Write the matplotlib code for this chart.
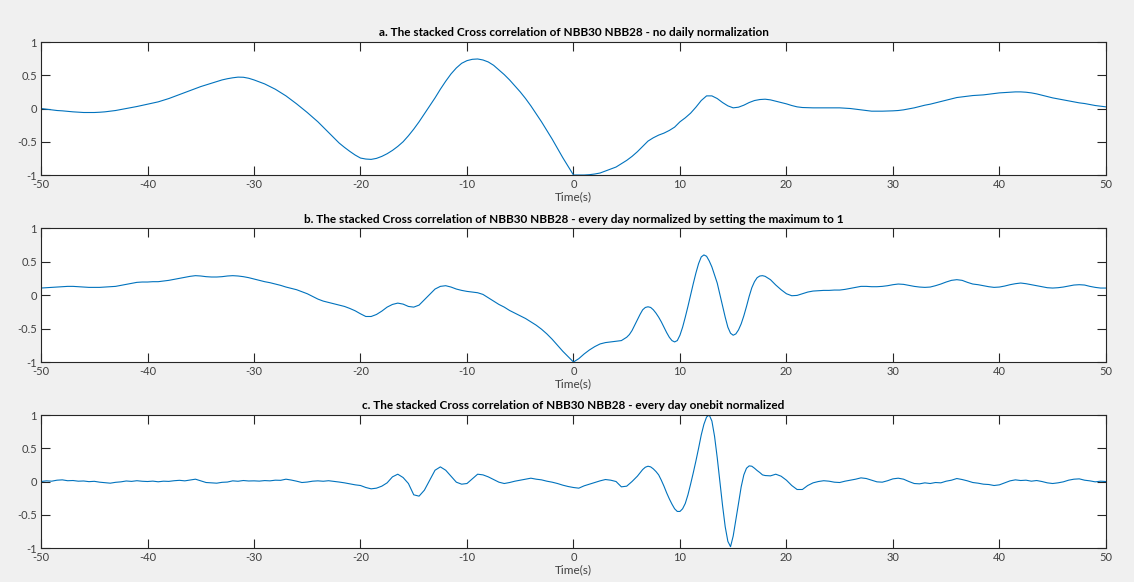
"""
Stacked cross-correlation of NBB30 / NBB28 with three normalization schemes.
"""

import numpy as np
import matplotlib
matplotlib.use("Agg")
import matplotlib.pyplot as plt

# lag axes: 0.5 s sampling, 0.25 s around the main arrivals
lag_a = np.arange(-50, 50.01, 0.5)
lag_b = np.concatenate([np.arange(-50, 5, 0.5), np.arange(5, 18, 0.25),
                        np.arange(18, 50.01, 0.5)])
lag_c = np.concatenate([np.arange(-50, 6, 0.5), np.arange(6, 18, 0.25),
                        np.arange(18, 50.01, 0.5)])

# a. no daily normalization
cc_raw = [
    0.00, -0.01, -0.02, -0.03, -0.035, -0.043, -0.05, -0.055, -0.06, -0.06,
    -0.06, -0.056, -0.05, -0.04, -0.03, -0.015, 0.00, 0.015, 0.03, 0.048,
    0.065, 0.082, 0.10, 0.125, 0.15, 0.18, 0.21, 0.24, 0.27, 0.30,
    0.33, 0.355, 0.38, 0.405, 0.43, 0.448, 0.462, 0.472, 0.47, 0.455,
    0.43, 0.40, 0.37, 0.33, 0.29, 0.24, 0.19, 0.13, 0.07, 0.005,
    -0.06, -0.13, -0.20, -0.28, -0.36, -0.44, -0.52, -0.585, -0.645, -0.70,
    -0.745, -0.76, -0.765, -0.75, -0.72, -0.68, -0.63, -0.57, -0.50, -0.41,
    -0.31, -0.20, -0.08, 0.04, 0.16, 0.29, 0.41, 0.52, 0.61, 0.68,
    0.72, 0.74, 0.745, 0.73, 0.70, 0.65, 0.58, 0.51, 0.43, 0.34,
    0.25, 0.15, 0.04, -0.08, -0.20, -0.33, -0.46, -0.60, -0.74, -0.87,
    -1.00, -1.00, -1.00, -0.995, -0.985, -0.97, -0.94, -0.91, -0.88, -0.83,
    -0.78, -0.72, -0.65, -0.57, -0.49, -0.44, -0.40, -0.37, -0.33, -0.28,
    -0.20, -0.14, -0.07, 0.02, 0.12, 0.19, 0.19, 0.15, 0.09, 0.04,
    0.01, 0.02, 0.05, 0.09, 0.12, 0.135, 0.14, 0.13, 0.11, 0.09,
    0.07, 0.045, 0.025, 0.015, 0.012, 0.01, 0.01, 0.01, 0.01, 0.01,
    0.01, 0.005, 0.00, -0.01, -0.02, -0.03, -0.04, -0.04, -0.04, -0.038,
    -0.035, -0.03, -0.02, -0.005, 0.01, 0.03, 0.05, 0.065, 0.085, 0.105,
    0.125, 0.145, 0.165, 0.175, 0.185, 0.195, 0.20, 0.205, 0.215, 0.225,
    0.235, 0.24, 0.245, 0.25, 0.25, 0.245, 0.235, 0.22, 0.20, 0.18,
    0.16, 0.145, 0.13, 0.115, 0.10, 0.085, 0.075, 0.06, 0.045, 0.035,
    0.025,
]

# b. every day normalized by its maximum
cc_maxnorm = [
    # -50 .. 4.5 s
    0.105, 0.11, 0.115, 0.12, 0.125, 0.13, 0.13, 0.125, 0.12, 0.115,
    0.115, 0.115, 0.12, 0.125, 0.13, 0.145, 0.16, 0.175, 0.19, 0.195,
    0.195, 0.20, 0.20, 0.21, 0.22, 0.235, 0.25, 0.265, 0.28, 0.29,
    0.285, 0.275, 0.27, 0.27, 0.275, 0.285, 0.29, 0.285, 0.275, 0.26,
    0.24, 0.22, 0.20, 0.185, 0.165, 0.145, 0.12, 0.10, 0.08, 0.05,
    0.02, -0.02, -0.06, -0.09, -0.11, -0.13, -0.15, -0.17, -0.20, -0.235,
    -0.28, -0.32, -0.32, -0.29, -0.24, -0.18, -0.14, -0.12, -0.135, -0.17,
    -0.18, -0.15, -0.07, 0.01, 0.09, 0.13, 0.14, 0.12, 0.09, 0.07,
    0.055, 0.045, 0.035, 0.01, -0.04, -0.09, -0.14, -0.18, -0.23, -0.27,
    -0.31, -0.35, -0.40, -0.45, -0.51, -0.58, -0.66, -0.75, -0.84, -0.92,
    -1.00, -0.95, -0.88, -0.82, -0.77, -0.73, -0.71, -0.70, -0.69, -0.68,
    # 5 .. 17.75 s
    -0.63, -0.59, -0.53, -0.45, -0.37, -0.29, -0.22, -0.185, -0.175, -0.185,
    -0.22, -0.27, -0.33, -0.40, -0.48, -0.56, -0.63, -0.68, -0.70, -0.68,
    -0.60, -0.48, -0.33, -0.17, 0.00, 0.17, 0.33, 0.47, 0.57, 0.60,
    0.58, 0.51, 0.42, 0.30, 0.18, 0.01, -0.16, -0.33, -0.48, -0.57,
    -0.60, -0.58, -0.52, -0.43, -0.31, -0.17, -0.02, 0.11, 0.20, 0.26,
    0.285, 0.29,
    # 18 .. 50 s
    0.28, 0.23, 0.15, 0.08,
    0.02, -0.01, -0.005, 0.02, 0.045, 0.06, 0.065, 0.07, 0.07, 0.075,
    0.075, 0.085, 0.10, 0.115, 0.13, 0.13, 0.125, 0.125, 0.13, 0.14,
    0.155, 0.165, 0.16, 0.145, 0.13, 0.12, 0.115, 0.12, 0.14, 0.165,
    0.195, 0.22, 0.23, 0.22, 0.19, 0.165, 0.155, 0.14, 0.125, 0.115,
    0.12, 0.135, 0.155, 0.17, 0.18, 0.17, 0.155, 0.14, 0.125, 0.11,
    0.105, 0.11, 0.12, 0.135, 0.15, 0.155, 0.15, 0.13, 0.115, 0.105,
    0.105,
]

# c. every day one-bit normalized
cc_onebit = [
    # -50 .. 5.5 s
    0.00, 0.01, 0.005, 0.02, 0.025, 0.012, 0.015, 0.005, 0.008, -0.002,
    0.003, -0.01, -0.018, -0.025, -0.012, -0.005, 0.008, 0.002, 0.012, 0.004,
    0.00, 0.006, -0.004, 0.005, 0.002, 0.012, 0.018, 0.01, 0.022, 0.035,
    0.01, -0.015, -0.02, -0.025, -0.012, -0.008, 0.01, 0.004, 0.015, 0.008,
    0.01, 0.006, 0.014, 0.01, 0.02, 0.018, 0.035, 0.022, 0.005, -0.015,
    -0.008, 0.005, 0.01, 0.004, 0.012, 0.002, -0.008, -0.02, -0.035, -0.05,
    -0.06, -0.09, -0.11, -0.10, -0.07, -0.02, 0.07, 0.11, 0.06, -0.03,
    -0.20, -0.22, -0.13, 0.02, 0.17, 0.22, 0.17, 0.08, -0.01, -0.04,
    -0.03, 0.04, 0.11, 0.10, 0.07, 0.03, -0.01, -0.03, -0.015, 0.005,
    0.02, 0.035, 0.05, 0.035, 0.025, 0.005, -0.01, -0.03, -0.055, -0.075,
    -0.09, -0.10, -0.065, -0.04, -0.015, 0.01, 0.03, 0.02, 0.00, -0.08,
    -0.07, 0.00,
    # 6 .. 17.75 s
    0.08, 0.13, 0.18, 0.215, 0.23, 0.22, 0.19, 0.15, 0.10, 0.02,
    -0.07, -0.17, -0.26, -0.34, -0.41, -0.45, -0.45, -0.41, -0.33, -0.20,
    -0.04, 0.13, 0.31, 0.50, 0.70, 0.86, 0.97, 1.00, 0.91, 0.68,
    0.36, 0.00, -0.36, -0.68, -0.90, -0.98, -0.82, -0.58, -0.33, -0.08,
    0.10, 0.20, 0.235, 0.23, 0.20, 0.165, 0.135, 0.10,
    # 18 .. 50 s
    0.09, 0.085, 0.11, 0.08,
    0.02, -0.06, -0.12, -0.12, -0.06, -0.02, 0.00, 0.012, 0.005, -0.01,
    -0.015, 0.005, 0.02, 0.035, 0.055, 0.045, 0.02, -0.005, -0.01, 0.012,
    0.04, 0.05, 0.035, 0.00, -0.03, -0.035, -0.02, -0.03, -0.015, -0.02,
    0.005, 0.02, 0.045, 0.03, 0.01, -0.015, -0.025, -0.04, -0.045, -0.06,
    -0.05, -0.02, 0.01, 0.025, 0.015, 0.02, 0.005, 0.015, 0.00, -0.02,
    -0.03, -0.02, -0.005, 0.02, 0.035, 0.04, 0.02, 0.01, -0.005, 0.005,
    0.00,
]

titles = [
    "a. The stacked Cross correlation of NBB30 NBB28 - no daily normalization",
    "b. The stacked Cross correlation of NBB30 NBB28 - every day normalized by setting the maximum to 1",
    "c. The stacked Cross correlation of NBB30 NBB28 - every day onebit normalized",
]
x_ticks = [-50, -40, -30, -20, -10, 0, 10, 20, 30, 40, 50]
y_ticks = [-1, -0.5, 0, 0.5, 1]
y_ticklabels = ["-1", "-0.5", "0", "0.5", "1"]

LINE_COLOR = "#0072bd"
AX_COLOR = "#262626"

fig = plt.figure(figsize=(11.34, 5.82), dpi=100)
fig.patch.set_facecolor("#f0f0f0")
plt.rcParams["font.family"] = ["Lato", "DejaVu Sans"]

# axes boxes (left, bottom, width, height) in figure fraction
boxes = [
    (0.0362, 0.6993, 0.939, 0.2285),
    (0.0362, 0.3780, 0.939, 0.2300),
    (0.0362, 0.0584, 0.939, 0.2285),
]
series = [(lag_a, cc_raw), (lag_b, cc_maxnorm), (lag_c, cc_onebit)]

for box, title, (lag, data) in zip(boxes, titles, series):
    ax = fig.add_axes(box)
    ax.set_facecolor("white")
    ax.plot(lag, data, color=LINE_COLOR, linewidth=0.8)
    ax.set_xlim(-50, 50)
    ax.set_ylim(-1, 1)
    ax.set_xticks(x_ticks)
    ax.set_xticklabels([str(t) for t in x_ticks])
    ax.set_yticks(y_ticks)
    ax.set_yticklabels(y_ticklabels)
    ax.tick_params(direction="in", length=6.5, width=0.8, colors=AX_COLOR,
                   labelsize=8, top=True, right=True, pad=3)
    ax.tick_params(axis="both", labelcolor="#404040")
    for spine in ax.spines.values():
        spine.set_edgecolor(AX_COLOR)
        spine.set_linewidth(0.8)
    ax.set_title(title, fontsize=8.5, fontweight="bold", color="black", pad=4)
    ax.set_xlabel("Time(s)", fontsize=8.5, color="#404040", labelpad=1)

fig.savefig("out.png", dpi=100, facecolor=fig.get_facecolor())
